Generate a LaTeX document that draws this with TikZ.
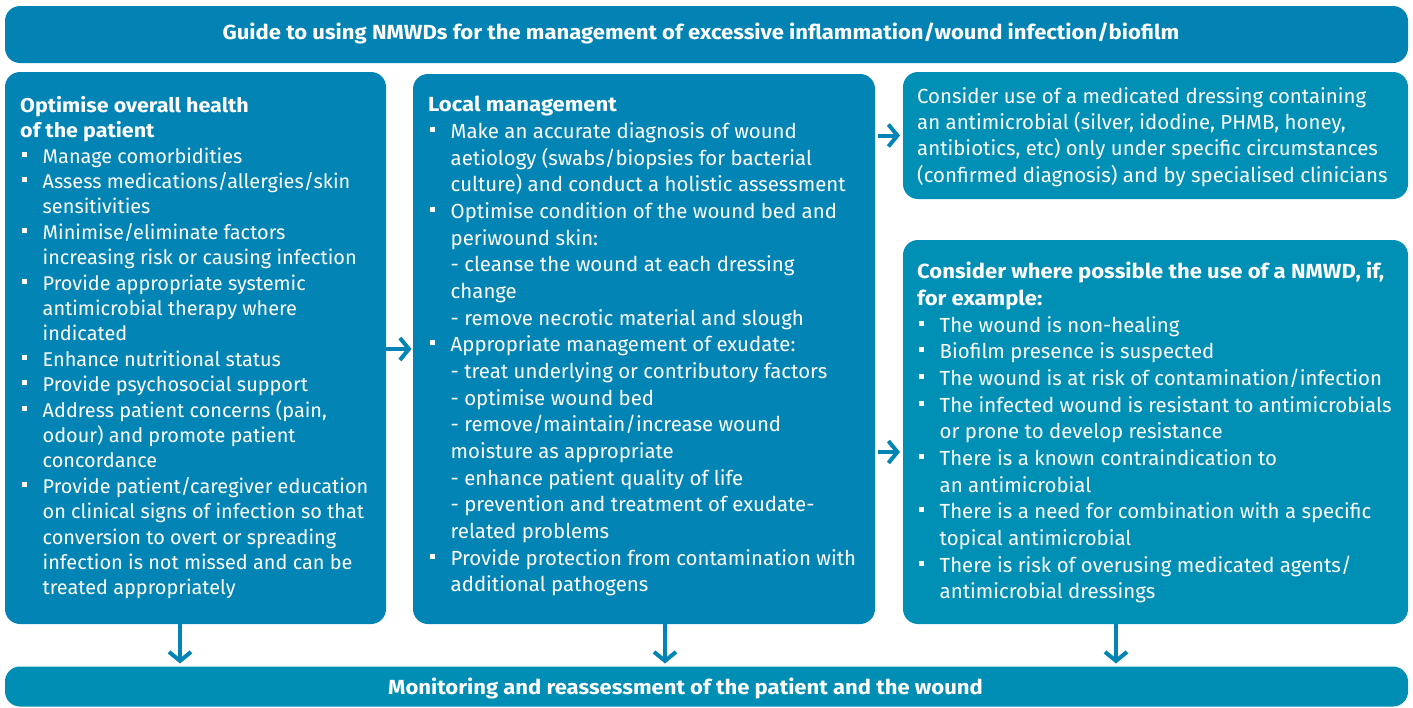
\documentclass[tikz,border=0pt]{standalone}
\usepackage{fontspec}
\setmainfont{Fira Sans}[BoldFeatures={FakeStretch=1.08}]
\usetikzlibrary{arrows.meta}

\definecolor{guideblue}{HTML}{0283B4}
\definecolor{localblue}{HTML}{0284B5}
\definecolor{nmwdteal}{HTML}{008FB5}
\definecolor{monteal}{HTML}{008EB5}

\newcommand{\itm}{\makebox[22.5pt][l]{\hspace{1.5pt}\raisebox{6.5pt}{\rule{5pt}{5pt}}}}
\newcommand{\cnt}{\hspace*{22.5pt}}

\tikzset{
  panel/.style={rounded corners=15pt, inner sep=0pt, outer sep=0pt},
  txt/.style={text=white, inner sep=0pt, anchor=north west, align=left},
  flow/.style={draw=localblue, line width=4pt, -{Straight Barb[length=9pt,width=22pt]}},
}

\begin{document}
\begin{tikzpicture}[x=1pt,y=1pt,yscale=-1]
\useasboundingbox (0,0) rectangle (1413,707);

% Panels
\node[panel, fill=guideblue, minimum width=1403pt, minimum height=57pt] (guide) at (706.5,34.5) {};
\node[panel, fill=localblue, minimum width=381pt, minimum height=552pt] (health) at (195.5,348) {};
\node[panel, fill=localblue, minimum width=462pt, minimum height=550pt] (local) at (644,349) {};
\node[panel, fill=nmwdteal, minimum width=505pt, minimum height=127pt] (medic) at (1155.5,135.5) {};
\node[panel, fill=nmwdteal, minimum width=505pt, minimum height=384pt] (nmwd) at (1155.5,432) {};
\node[panel, fill=monteal, minimum width=1403pt, minimum height=40pt] (monitor) at (706.5,686.5) {};

% Text Node
\node[text=white, font=\bfseries\fontsize{20.4}{24}\selectfont] (guidetxt) at (701,33.5) {Guide to using NMWDs for the management of excessive inflammation/wound infection/biofilm};
% Text Node
\node[text=white, font=\bfseries\fontsize{20.4}{24}\selectfont] (montxt) at (685.5,688) {Monitoring and reassessment of the patient and the wound};

% Text Node
\node[txt, font=\fontsize{19.9}{25.4}\selectfont] (healthtxt) at (20,96) {%
\textbf{Optimise overall health}\\
\textbf{of the patient}\\
\itm Manage comorbidities\\
\itm Assess medications/allergies/skin\\
\cnt sensitivities\\
\itm Minimise/eliminate factors\\
\cnt increasing risk or causing infection\\
\itm Provide appropriate systemic\\
\cnt antimicrobial therapy where\\
\cnt indicated\\
\itm Enhance nutritional status\\
\itm Provide psychosocial support\\
\itm Address patient concerns (pain,\\
\cnt odour) and promote patient\\
\cnt concordance\\
\itm Provide patient/caregiver education\\
\cnt on clinical signs of infection so that\\
\cnt conversion to overt or spreading\\
\cnt infection is not missed and can be\\
\cnt treated appropriately};

% Text Node
\node[txt, font=\fontsize{20.4}{26.67}\selectfont] (localtxt) at (428,96) {%
\textbf{Local management}\\
\itm Make an accurate diagnosis of wound\\
\cnt aetiology (swabs/biopsies for bacterial\\
\cnt culture) and conduct a holistic assessment\\
\itm Optimise condition of the wound bed and\\
\cnt periwound skin:\\
\cnt - cleanse the wound at each dressing\\
\cnt change\\
\cnt - remove necrotic material and slough\\
\itm Appropriate management of exudate:\\
\cnt - treat underlying or contributory factors\\
\cnt - optimise wound bed\\
\cnt - remove/maintain/increase wound\\
\cnt moisture as appropriate\\
\cnt - enhance patient quality of life\\
\cnt - prevention and treatment of exudate-\\
\cnt related problems\\
\itm Provide protection from contamination with\\
\cnt additional pathogens};

% Text Node
\node[txt, font=\fontsize{20.4}{26.3}\selectfont] (medictxt) at (917,87) {%
Consider use of a medicated dressing containing\\
an antimicrobial (silver, idodine, PHMB, honey,\\
antibiotics, etc) only under specific circumstances\\
(confirmed diagnosis) and by specialised clinicians};

% Text Node
\node[txt, font=\fontsize{20.4}{26.67}\selectfont] (nmwdtxt) at (917,262) {%
\textbf{Consider where possible the use of a NMWD, if,}\\
\textbf{for example:}\\
\itm The wound is non-healing\\
\itm Biofilm presence is suspected\\
\itm The wound is at risk of contamination/infection\\
\itm The infected wound is resistant to antimicrobials\\
\cnt or prone to develop resistance\\
\itm There is a known contraindication to\\
\cnt an antimicrobial\\
\itm There is a need for combination with a specific\\
\cnt topical antimicrobial\\
\itm There is risk of overusing medicated agents/\\
\cnt antimicrobial dressings};

% Arrows
\coordinate (dhealth) at (180,645);
\coordinate (dlocal) at (665,645);
\coordinate (dnmwd) at (1116,645);
\draw[flow, shorten >=1.5pt] (health.east |- local) -- (local.west);
\draw[flow, shorten >=3pt, shorten <=3pt] (local.east |- medic) -- (medic.west);
\draw[flow, shorten >=3pt, shorten <=3pt] ([yshift=20pt]local.east |- nmwd) -- ([yshift=20pt]nmwd.west);
\draw[flow, shorten >=3pt] (health.south -| dhealth) -- (monitor.north -| dhealth);
\draw[flow, shorten >=3pt] (local.south -| dlocal) -- (monitor.north -| dlocal);
\draw[flow, shorten >=3pt] (nmwd.south -| dnmwd) -- (monitor.north -| dnmwd);

\end{tikzpicture}
\end{document}
